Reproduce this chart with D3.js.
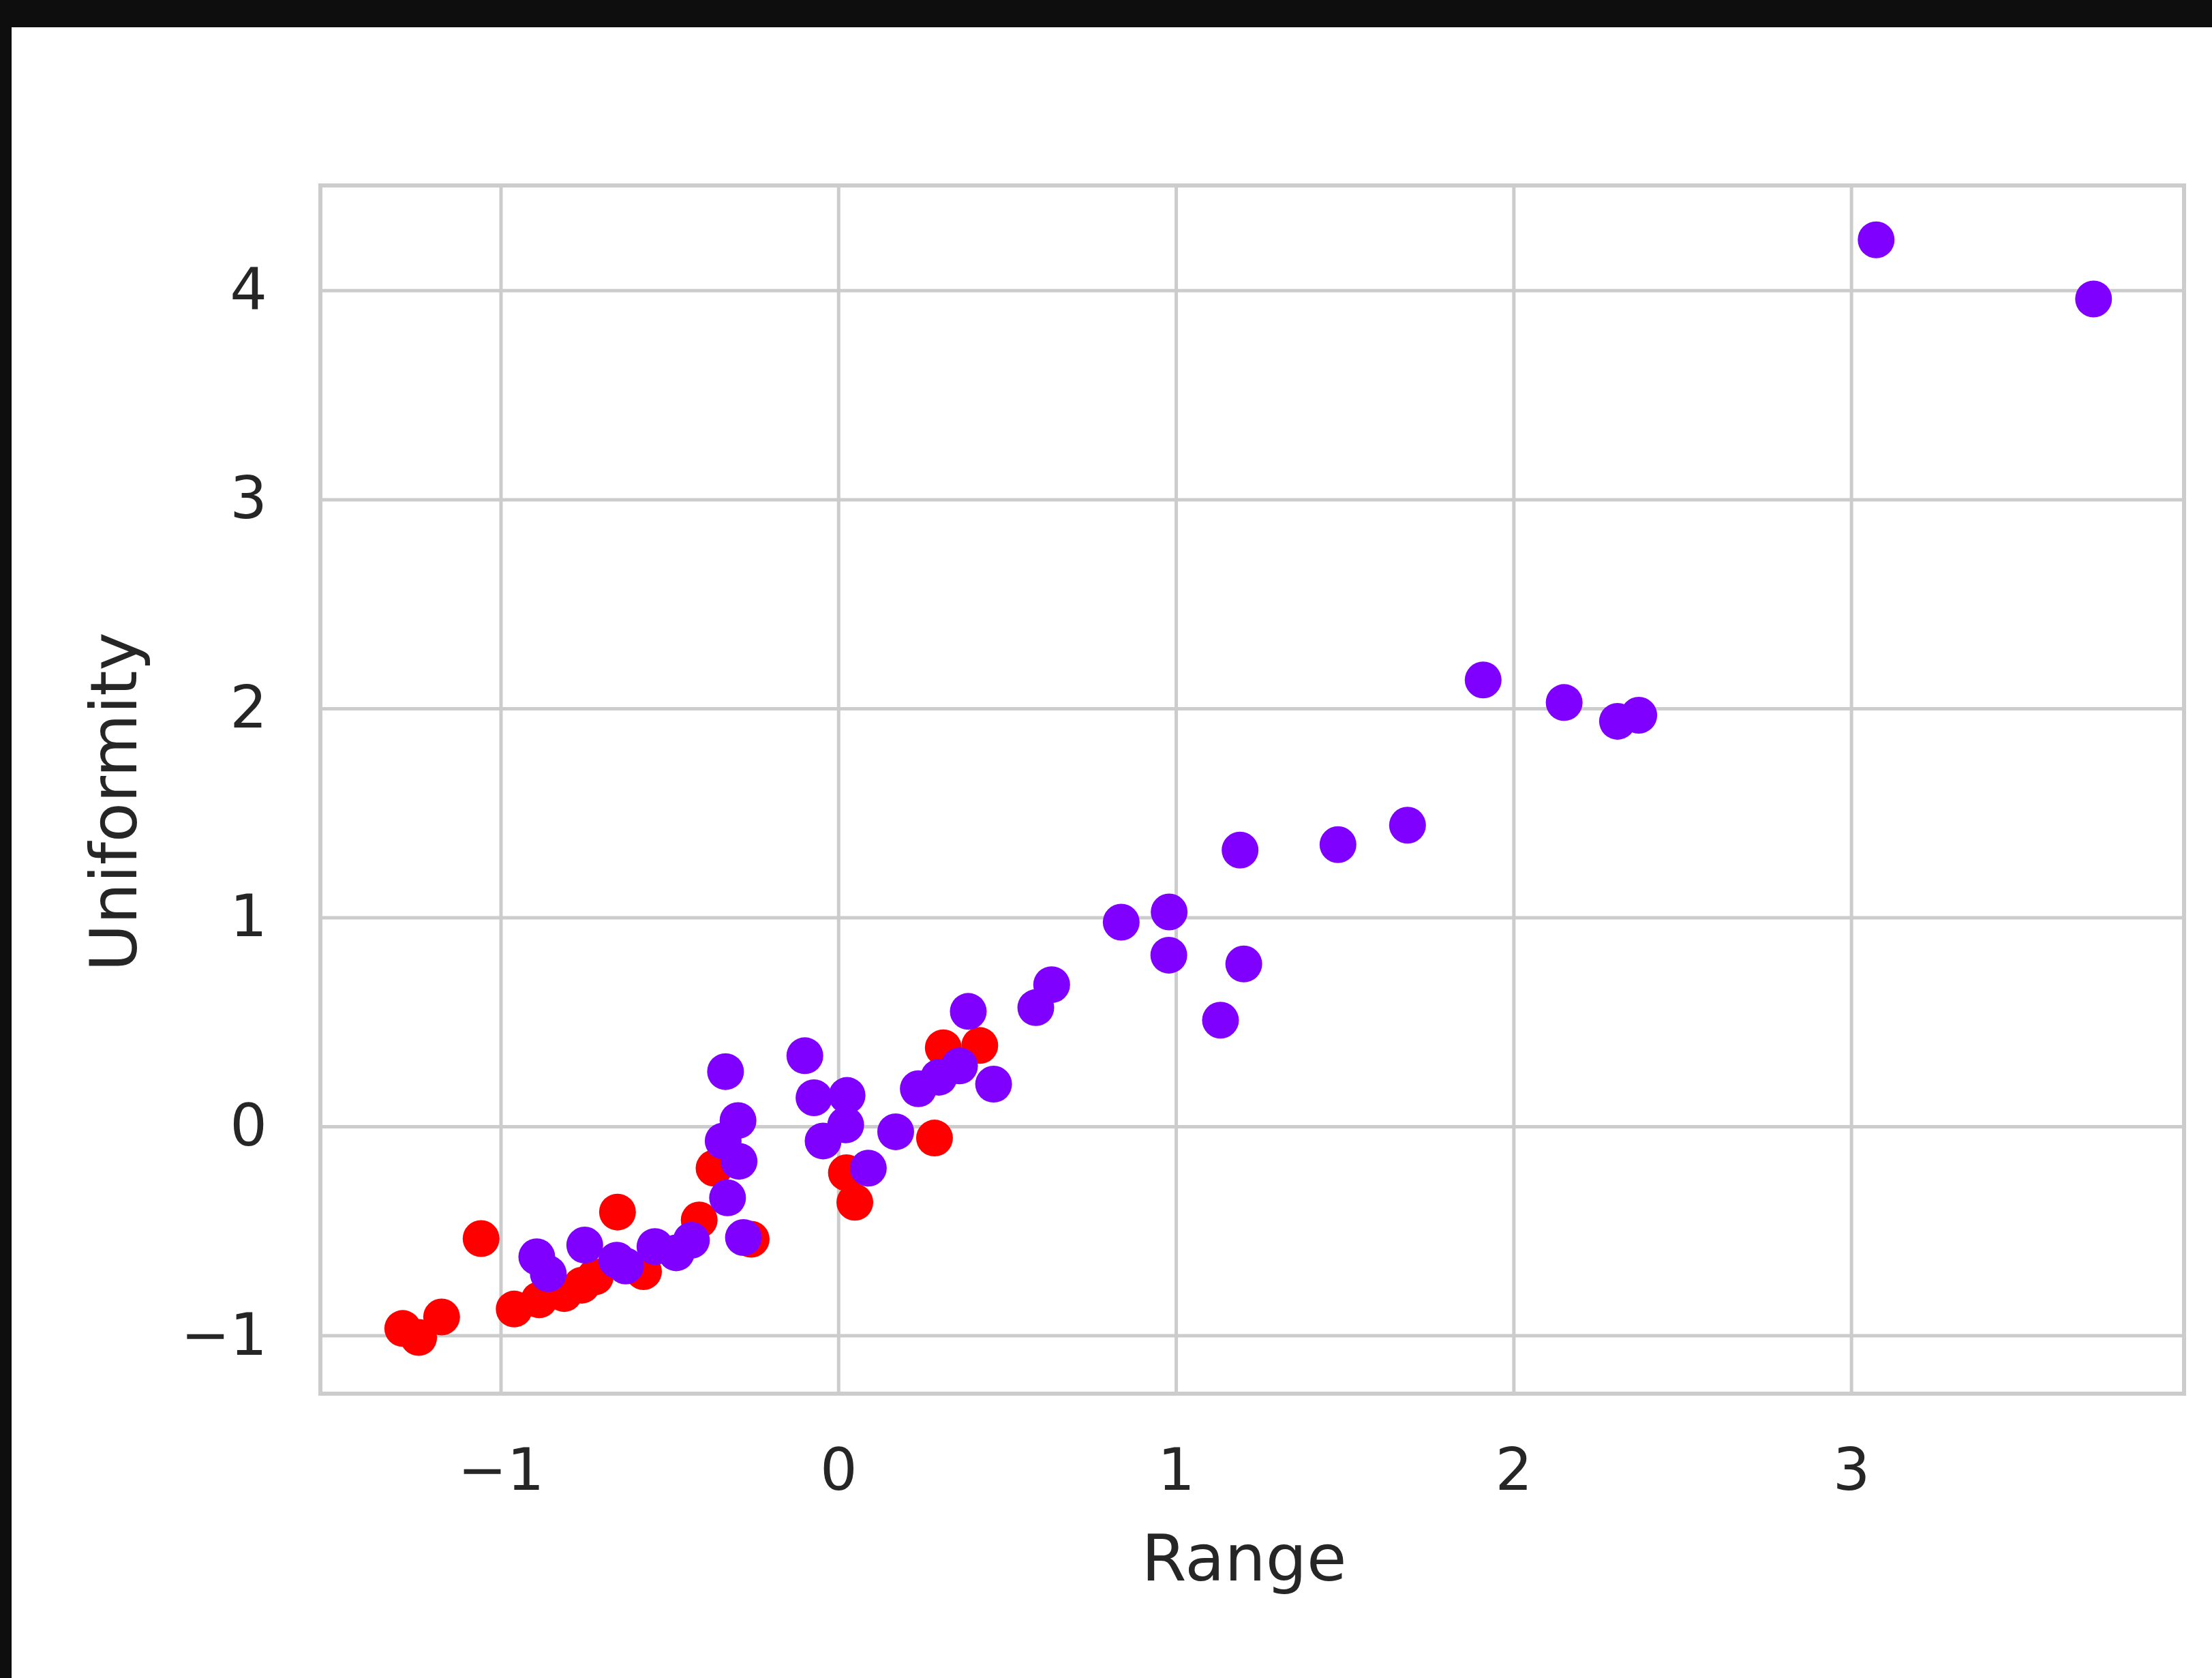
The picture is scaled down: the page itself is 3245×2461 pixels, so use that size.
<!DOCTYPE html>
<html>
<head>
<meta charset="utf-8">
<script src="https://cdn.jsdelivr.net/npm/d3@7"></script>
<style>
  html, body { margin: 0; padding: 0; background: #0e0e0e; }
  svg { display: block; }
  text { font-family: "DejaVu Sans", sans-serif; fill: #262626; }
</style>
</head>
<body>
<div id="chart"></div>
<script>
// cluster 0 (purple) and cluster 1 (red)
var purpleX = [-0.893, -0.859, -0.751, -0.656, -0.630, -0.543, -0.480, -0.435,
  -0.334, -0.297, -0.341, -0.294, -0.328, -0.281, -0.099, -0.072, 0.026, 0.022,
  -0.045, 0.170, 0.089, 0.237, 0.298, 0.359, 0.385, 0.460, 0.585, 0.632,
  0.838, 0.980, 0.979, 1.190, 1.201, 1.132, 1.480, 1.686, 1.910, 2.150,
  2.308, 2.371, 3.074, 3.718]
var purpleY = [-0.624, -0.705, -0.568, -0.640, -0.668, -0.575, -0.605, -0.545,
  0.262, 0.028, -0.070, -0.167, -0.342, -0.532, 0.338, 0.137, 0.148, 0.007,
  -0.070, -0.026, -0.200, 0.180, 0.235, 0.289, 0.550, 0.202, 0.568, 0.678,
  0.977, 1.026, 0.819, 1.322, 0.777, 0.508, 1.348, 1.441, 2.136, 2.028,
  1.938, 1.967, 4.242, 3.959]
var redX = [-1.290, -1.175, -1.243, -1.058, -0.960, -0.886, -0.812, -0.760,
  -0.720, -0.654, -0.577, -0.412, -0.368, -0.258, 0.024, 0.049, 0.285,
  0.311, 0.419]
var redY = [-0.967, -0.912, -1.010, -0.537, -0.874, -0.830, -0.800, -0.760,
  -0.720, -0.410, -0.695, -0.448, -0.200, -0.540, -0.222, -0.363, -0.056,
  0.376, 0.387]
var xTicks = [-1, 0, 1, 2, 3]
var yTicks = [-1, 0, 1, 2, 3, 4]
var xLabel = "Range"
var yLabel = "Uniformity"

var W = 3245, H = 2461
var margin = { top: 272, right: 41, bottom: 417, left: 470 }
var width = W - margin.left - margin.right
var height = H - margin.top - margin.bottom
var fmt = d3.format("d")

var svg = d3.select("#chart").append("svg")
  .attr("width", W)
  .attr("height", H)

// dark frame round the white figure
svg.append("rect").attr("width", W).attr("height", H).attr("fill", "#0e0e0e")
svg.append("rect")
  .attr("x", 17).attr("y", 40)
  .attr("width", W - 17).attr("height", H - 40)
  .attr("fill", "#ffffff")

var g = svg.append("g")
  .attr("transform", "translate(" + margin.left + "," + margin.top + ")")

var xScale = d3.scaleLinear().domain([-1.534, 3.986]).range([0, width])
var yScale = d3.scaleLinear().domain([-1.279, 4.502]).range([height, 0])

// X axis with grid
var xAxis = g.append("g")
  .attr("transform", "translate(0," + height + ")")
  .call(d3.axisBottom(xScale).tickValues(xTicks).tickFormat(fmt).tickSize(-height).tickPadding(80))
xAxis.select(".domain").remove()
xAxis.selectAll("line").attr("stroke", "#cccccc").attr("stroke-width", 5)
xAxis.selectAll("text").attr("font-size", 86).attr("fill", "#262626")

// Y axis with grid
var yAxis = g.append("g")
  .call(d3.axisLeft(yScale).tickValues(yTicks).tickFormat(fmt).tickSize(-width).tickPadding(78))
yAxis.select(".domain").remove()
yAxis.selectAll("line").attr("stroke", "#cccccc").attr("stroke-width", 5)
yAxis.selectAll("text").attr("font-size", 86).attr("fill", "#262626")

// frame
g.append("rect")
  .attr("width", width).attr("height", height)
  .attr("fill", "none")
  .attr("stroke", "#cccccc")
  .attr("stroke-width", 6)

// points
g.selectAll(".red-dot")
  .data(d3.zip(redX, redY))
  .enter().append("circle")
  .attr("class", "red-dot")
  .attr("cx", function(d) { return xScale(d[0]) })
  .attr("cy", function(d) { return yScale(d[1]) })
  .attr("r", 27)
  .attr("fill", "#ff0000")

g.selectAll(".purple-dot")
  .data(d3.zip(purpleX, purpleY))
  .enter().append("circle")
  .attr("class", "purple-dot")
  .attr("cx", function(d) { return xScale(d[0]) })
  .attr("cy", function(d) { return yScale(d[1]) })
  .attr("r", 27)
  .attr("fill", "#8000ff")

// axis labels
svg.append("text")
  .attr("x", 1825)
  .attr("y", 2318)
  .attr("text-anchor", "middle")
  .attr("font-size", 95)
  .text(xLabel)

svg.append("text")
  .attr("transform", "translate(200,1176) rotate(-90)")
  .attr("text-anchor", "middle")
  .attr("font-size", 95)
  .text(yLabel)
</script>
</body>
</html>
